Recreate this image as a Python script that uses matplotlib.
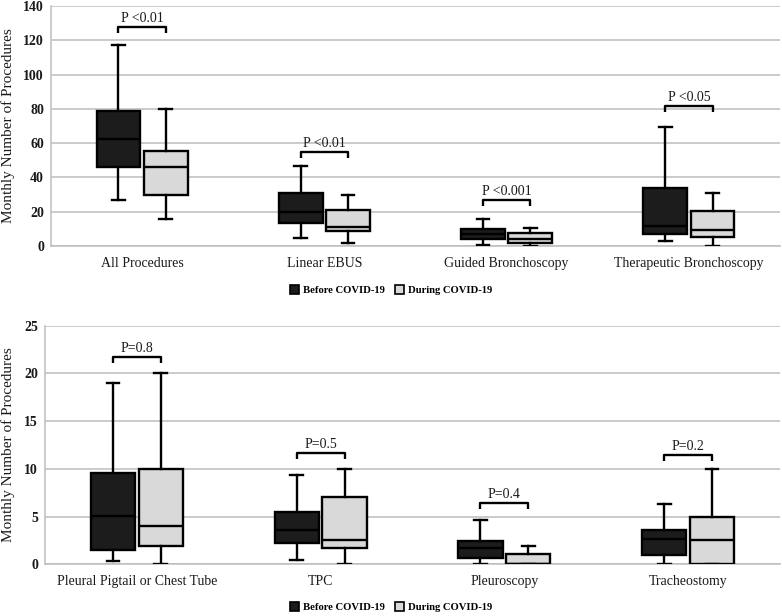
import matplotlib
matplotlib.use("Agg")
import matplotlib.pyplot as plt
from matplotlib.patches import Patch

plt.rcParams['font.family'] = ['Liberation Serif', 'DejaVu Serif']

# ---------------- data ----------------
top_categories = ["All Procedures", "Linear EBUS", "Guided Bronchoscopy", "Therapeutic Bronchoscopy"]
top_before_whislo = [27, 4.5, 0.8, 3]
top_before_q1 = [46.3, 13.3, 4.1, 7]
top_before_med = [62.5, 19.8, 6.8, 11.7]
top_before_q3 = [79, 31, 9.7, 34]
top_before_whishi = [117.5, 46.5, 15.5, 69.5]
top_during_whislo = [16, 2, 0, 0]
top_during_q1 = [29.5, 8.7, 1.6, 5]
top_during_med = [45.8, 11.3, 3.9, 9.3]
top_during_q3 = [55.5, 21, 7.4, 20.3]
top_during_whishi = [80, 30, 10.3, 31]
top_pvalues = ["P <0.01", "P <0.01", "P <0.001", "P <0.05"]
top_bracket = [128, 55, 27, 81.5]

bot_categories = ["Pleural Pigtail or Chest Tube", "TPC", "Pleuroscopy", "Tracheostomy"]
bot_before_whislo = [0.35, 0.5, 0, 0]
bot_before_q1 = [1.55, 2.2, 0.63, 1.0]
bot_before_med = [5.05, 3.6, 1.7, 2.6]
bot_before_q3 = [9.55, 5.45, 2.45, 3.55]
bot_before_whishi = [19, 9.35, 4.65, 6.3]
bot_during_whislo = [0, 0, 0, 0]
bot_during_q1 = [1.9, 1.75, 0, 0]
bot_during_med = [4.0, 2.55, 0, 2.55]
bot_during_q3 = [10, 7, 1.05, 5.0]
bot_during_whishi = [20, 10, 1.95, 10]
bot_pvalues = ["P=0.8", "P=0.5", "P=0.4", "P=0.2"]
bot_bracket = [21.7, 11.7, 6.45, 11.45]

series_names = ["Before COVID-19", "During COVID-19"]
series_colors = ["#1c1c1c", "#d9d9d9"]

GRID = "#bdbdbd"
TXT = "#1a1a1a"


def make_stats(lo, q1, med, q3, hi):
    return [dict(whislo=a, q1=b, med=c, q3=d, whishi=e, fliers=[])
            for a, b, c, d, e in zip(lo, q1, med, q3, hi)]


def draw_panel(ax, cats, before, during, pvals, brk, ymax, ystep, ylab_x):
    n = len(cats)
    off = 0.13
    w = 0.24
    for stats, sign, col in ((before, -1, series_colors[0]), (during, 1, series_colors[1])):
        pos = [i + sign * off for i in range(n)]
        ax.bxp(stats, positions=pos, widths=w, patch_artist=True, showfliers=False,
               capwidths=0.07,
               boxprops=dict(facecolor=col, edgecolor="black", linewidth=1.7),
               medianprops=dict(color="black", linewidth=1.7),
               whiskerprops=dict(color="black", linewidth=1.7),
               capprops=dict(color="black", linewidth=1.7), zorder=3)
    leg = ymax * 0.025
    for i in range(n):
        x0, x1 = i - off, i + off
        y = brk[i]
        ax.plot([x0, x0, x1, x1], [y - leg, y, y, y - leg], color="black", lw=1.7,
                solid_capstyle="butt", zorder=4)
        ax.text(i, y + ymax * 0.035, pvals[i], ha="center", va="center",
                fontsize=10, color=TXT)
    ax.set_xlim(-0.5, n - 0.5)
    ax.set_ylim(0, ymax)
    ax.set_yticks(range(0, ymax + 1, ystep))
    ax.set_xticks(range(n))
    ax.set_xticklabels(cats, fontsize=10, color=TXT)
    ax.tick_params(axis="x", length=0, pad=8)
    ax.tick_params(axis="y", length=0, pad=5, labelsize=10, labelcolor=TXT)
    for t in ax.get_yticklabels():
        t.set_fontweight("bold")
    ax.yaxis.grid(True, color=GRID, lw=1.1)
    ax.set_axisbelow(True)
    for s in ("top", "right"):
        ax.spines[s].set_visible(False)
    for s in ("left", "bottom"):
        ax.spines[s].set_color(GRID)
        ax.spines[s].set_linewidth(1.1)
    ax.set_ylabel("Monthly Number of Procedures", fontsize=11, color=TXT)
    ax.yaxis.set_label_coords(ylab_x, 0.5)


fig = plt.figure(figsize=(7.82, 6.16), dpi=100)
ax1 = fig.add_axes([51 / 782, 1 - 246 / 616, 729 / 782, 240 / 616])
ax2 = fig.add_axes([45 / 782, 1 - 564.3 / 616, 735 / 782, 238.6 / 616])

draw_panel(ax1, top_categories,
           make_stats(top_before_whislo, top_before_q1, top_before_med, top_before_q3, top_before_whishi),
           make_stats(top_during_whislo, top_during_q1, top_during_med, top_during_q3, top_during_whishi),
           top_pvalues, top_bracket, 140, 20, -0.050)
draw_panel(ax2, bot_categories,
           make_stats(bot_before_whislo, bot_before_q1, bot_before_med, bot_before_q3, bot_before_whishi),
           make_stats(bot_during_whislo, bot_during_q1, bot_during_med, bot_during_q3, bot_during_whishi),
           bot_pvalues, bot_bracket, 25, 5, -0.041)

handles = [Patch(facecolor=c, edgecolor="black", linewidth=1.2, label=n)
           for c, n in zip(series_colors, series_names)]
for ycen in (1 - 290 / 616, 1 - 607 / 616):
    fig.legend(handles=handles, loc="center", bbox_to_anchor=(0.5, ycen), ncol=2,
               frameon=False, handlelength=0.85, handleheight=0.85,
               handletextpad=0.4, columnspacing=0.9,
               prop=dict(family=['Liberation Serif'], weight="bold", size=7.7))

fig.savefig("out.png", dpi=100)
